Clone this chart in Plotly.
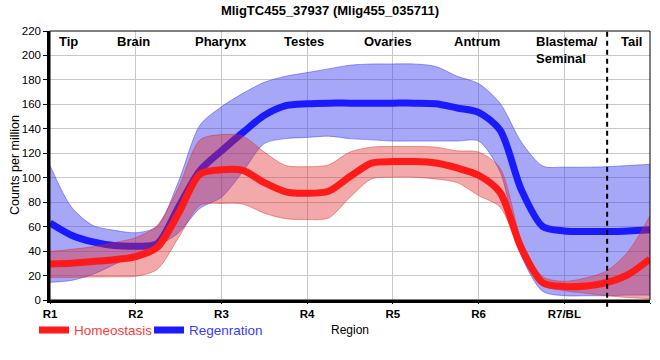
import plotly.graph_objects as go

# ---- data ----
x_pos = [1, 1.25, 1.5, 1.75, 2, 2.25, 2.5, 2.75, 3, 3.25, 3.5, 3.75, 4, 4.25, 4.5,
         4.75, 5, 5.25, 5.5, 5.75, 6, 6.25, 6.5, 6.75, 7, 7.25, 7.5, 7.75, 8]

regen_mean = [63, 53, 47.5, 44.5, 44, 46, 76, 106, 122, 137, 151, 159, 160.5, 161, 161,
              161, 161, 161, 160.5, 157, 153.5, 139, 90, 60, 56.5, 56, 56, 56.5, 57.5]
regen_upper = [110, 76, 61, 57, 55, 60, 97, 143, 158, 169, 178, 183, 186, 189, 192,
               193, 193, 193, 191, 183, 177, 161, 129, 109.5, 108.6, 108.6, 109, 110, 111]
regen_lower = [14.5, 16, 21, 29, 37.6, 44, 55, 75, 84, 105, 128, 132, 133, 134, 132,
               131, 130, 130, 130, 130, 130, 105, 36, 7, 3.5, 3.5, 3.5, 4, 4]

homeo_mean = [29.5, 30, 31.5, 33, 35.5, 43, 71, 103, 106.5, 106, 96, 88.5, 87.3, 89, 101,
              112, 113.2, 113.2, 112, 108, 102, 88, 42, 14, 11, 11.5, 14.5, 21, 33.6]
homeo_upper = [39.6, 41.5, 43.5, 47, 51, 61, 92, 131, 135.3, 134, 121, 110, 109, 110.5, 121,
               125, 125.5, 125.5, 125, 122, 121, 108, 49, 19, 15.3, 18, 24, 40, 69]
homeo_lower = [18.5, 18.5, 18.8, 19, 19.4, 25, 51, 77.5, 79, 78.5, 71, 66.5, 65.8, 67, 84,
               99, 100.4, 100.4, 99, 96, 85.4, 76, 38, 12, 7.6, 5.5, 3.5, 2, 1]

tick_vals = [1, 2, 3, 4, 5, 6, 7, 8]
tick_text = ["R1", "R2", "R3", "R4", "R5", "R6", "R7/BL", "R8/TL"]

region_names = ["Tip", "Brain", "Pharynx", "Testes", "Ovaries", "Antrum", "Tail"]
region_x = [1.22, 1.97, 2.99, 3.96, 4.94, 5.98, 7.78]
blastema_label = "Blastema/<br>Seminal"
blastema_x = 6.65
divider_x = 7.5

FONT = "Arial, 'Liberation Sans', sans-serif"

fig = go.Figure()

def band(lower, upper, fillc, linec):
    fig.add_trace(go.Scatter(x=x_pos, y=lower, mode="lines",
                             line=dict(color=linec, width=1, shape="spline", smoothing=0.8),
                             showlegend=False, hoverinfo="skip"))
    fig.add_trace(go.Scatter(x=x_pos, y=upper, mode="lines", fill="tonexty",
                             fillcolor=fillc,
                             line=dict(color=linec, width=1, shape="spline", smoothing=0.8),
                             showlegend=False, hoverinfo="skip"))

band(regen_lower, regen_upper, "rgba(60,60,240,0.45)", "rgba(60,60,240,0.5)")
fig.add_trace(go.Scatter(x=x_pos, y=regen_mean, mode="lines",
                         name="<span style='color:#3a3aff'>Regenration</span>",
                         line=dict(color="#1a1aff", width=7, shape="spline", smoothing=0.8)))
band(homeo_lower, homeo_upper, "rgba(225,40,40,0.4)", "rgba(225,40,40,0.45)")
fig.add_trace(go.Scatter(x=x_pos, y=homeo_mean, mode="lines",
                         name="<span style='color:#ff3a3a'>Homeostasis</span>",
                         line=dict(color="#ff1a1a", width=7, shape="spline", smoothing=0.8)))

annotations = []
for name, xv in zip(region_names, region_x):
    annotations.append(dict(x=xv, y=0.995, xref="x", yref="paper", text="<b>" + name + "</b>",
                            showarrow=False, xanchor="center", yanchor="top",
                            font=dict(family=FONT, size=13, color="black")))
annotations.append(dict(x=blastema_x, y=0.995, xref="x", yref="paper", text="<b>" + blastema_label + "</b>",
                        showarrow=False, xanchor="left", yanchor="top", align="left",
                        font=dict(family=FONT, size=13, color="black")))
annotations.append(dict(x=-0.059, y=0.5, xref="paper", yref="paper", text="Counts per million",
                        textangle=-90, showarrow=False, xanchor="center", yanchor="middle",
                        font=dict(family=FONT, size=12.5, color="black")))

shapes = [
    dict(type="line", xref="x", yref="paper", x0=divider_x, x1=divider_x, y0=-0.025, y1=1,
         line=dict(color="black", width=2, dash="5px,4px")),
    dict(type="rect", xref="paper", yref="paper", x0=0, x1=1, y0=0, y1=1,
         line=dict(color="black", width=1)),
]

fig.update_layout(
    width=660, height=360,
    margin=dict(l=50, r=10, t=31, b=60),
    paper_bgcolor="white", plot_bgcolor="white",
    font=dict(family=FONT, size=12, color="black"),
    title=dict(text="<b>MligTC455_37937 (Mlig455_035711)</b>", x=0.5, xanchor="center",
               y=0.972, yanchor="middle", font=dict(family=FONT, size=13, color="black")),
    xaxis=dict(range=[1, 8], tickmode="array", tickvals=tick_vals, ticktext=tick_text,
               showgrid=True, gridcolor="#c8c8c8", gridwidth=1, zeroline=False,
               showline=True, linecolor="black", linewidth=3,
               ticks="outside", ticklen=1, tickcolor="black",
               tickfont=dict(family=FONT, size=11.5, color="black", weight="bold"),
               title=dict(text="Region", standoff=7, font=dict(family=FONT, size=12))),
    yaxis=dict(range=[0, 220], dtick=20, tick0=0,
               showgrid=True, gridcolor="#c8c8c8", gridwidth=1, zeroline=False,
               showline=True, linecolor="black", linewidth=2.5,
               ticks="outside", ticklen=4, tickcolor="black",
               tickfont=dict(family=FONT, size=11.5, color="black")),
    legend=dict(orientation="h", x=-0.0267, xanchor="left", y=-0.055, yanchor="top",
                traceorder="reversed",
                font=dict(family=FONT, size=13.5), itemwidth=30,
                entrywidth=70, entrywidthmode="pixels", bgcolor="rgba(0,0,0,0)"),
    annotations=annotations,
    shapes=shapes,
)

fig.write_html("out.html", post_script="document.body.style.margin='0';",
               config={"displayModeBar": False})
